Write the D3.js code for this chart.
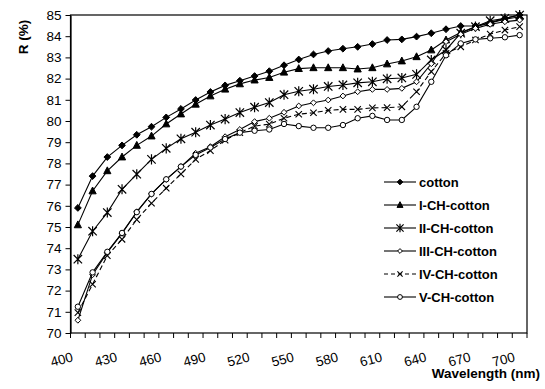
<!DOCTYPE html>
<html>
<head>
<meta charset="utf-8">
<script src="https://cdn.jsdelivr.net/npm/d3@7"></script>
<style>
  body { margin: 0; background: #fff; }
  text { font-family: "Liberation Sans", Arial, sans-serif; fill: #000; }
</style>
</head>
<body>
<div class="chart"></div>
<script>
// wavelengths (nm), one category per 10 nm
var wavelengths = d3.range(400, 701, 10);
var xTickLabels = [400, 430, 460, 490, 520, 550, 580, 610, 640, 670, 700];
var yTicks = d3.range(70, 86, 1);

var cotton = [75.9, 77.4, 78.3, 78.85, 79.35, 79.73, 80.17, 80.57, 80.99, 81.37, 81.68,
  81.9, 82.12, 82.35, 82.63, 82.9, 83.14, 83.3, 83.41, 83.5, 83.63,
  83.82, 83.85, 83.98, 84.14, 84.33, 84.48, 84.48, 84.64, 84.84, 85.0];
var cotton1 = [75.1, 76.7, 77.65, 78.3, 78.85, 79.29, 79.86, 80.33, 80.79, 81.18, 81.5,
  81.75, 81.93, 82.05, 82.3, 82.47, 82.51, 82.51, 82.51, 82.45, 82.51,
  82.69, 82.83, 83.03, 83.35, 83.82, 84.17, 84.45, 84.62, 84.8, 84.92];
var cotton2 = [73.48, 74.8, 75.68, 76.78, 77.49, 78.19, 78.71, 79.16, 79.47, 79.81, 80.09,
  80.4, 80.65, 80.87, 81.24, 81.4, 81.5, 81.63, 81.7, 81.8, 81.85,
  81.99, 82.03, 82.2, 82.88, 83.35, 84.14, 84.45, 84.73, 84.84, 85.0];
var cotton3 = [70.6, 72.75, 73.8, 74.7, 75.72, 76.56, 77.25, 77.85, 78.48, 78.79, 79.26,
  79.6, 79.97, 80.13, 80.41, 80.71, 80.86, 80.99, 81.18, 81.38, 81.49,
  81.49, 81.54, 81.85, 82.7, 83.74, 84.09, 84.37, 84.56, 84.68, 84.76];
var cotton4 = [70.96, 72.3, 73.65, 74.42, 75.35, 76.12, 76.83, 77.5, 78.19, 78.6, 79.1,
  79.45, 79.76, 79.85, 80.13, 80.32, 80.39, 80.5, 80.55, 80.55, 80.62,
  80.63, 80.67, 81.38, 82.33, 83.19, 83.5, 83.82, 84.1, 84.29, 84.45];
var cotton5 = [71.24, 72.86, 73.83, 74.72, 75.7, 76.56, 77.25, 77.85, 78.4, 78.75, 79.15,
  79.45, 79.54, 79.6, 79.86, 79.76, 79.68, 79.68, 79.81, 80.13, 80.24,
  80.05, 80.05, 80.67, 81.85, 83.1, 83.66, 83.85, 83.9, 83.95, 84.05];

var seriesNames = ["cotton", "I-CH-cotton", "II-CH-cotton", "III-CH-cotton", "IV-CH-cotton", "V-CH-cotton"];
var seriesValues = [cotton, cotton1, cotton2, cotton3, cotton4, cotton5];
var seriesMarkers = ["diamond", "triangle", "asterisk", "openDiamond", "cross", "openCircle"];
var seriesDash = [null, null, null, null, "5,3", null];

var svgWidth = 545;
var svgHeight = 389;
var margin = { top: 15, right: 18, bottom: 56, left: 70.5 };
var width = svgWidth - margin.left - margin.right;
var height = svgHeight - margin.top - margin.bottom;

var svg = d3.select(".chart").append("svg")
  .attr("width", svgWidth)
  .attr("height", svgHeight);

var chartGroup = svg.append("g")
  .attr("transform", `translate(${margin.left}, ${margin.top})`);

var xScale = d3.scaleBand().domain(wavelengths).range([0, width]).padding(0);
var yScale = d3.scaleLinear().domain([70, 85]).range([height, 0]);
var cx = d => xScale(d) + xScale.bandwidth() / 2;

// plot frame
chartGroup.append("rect")
  .attr("x", 0).attr("y", 0)
  .attr("width", width).attr("height", height)
  .attr("fill", "none").attr("stroke", "#000").attr("stroke-width", 1.2);

// y axis
var leftAxis = d3.axisLeft(yScale).tickValues(yTicks).tickSize(5).tickPadding(4).tickSizeOuter(0);
var yAxis = chartGroup.append("g").call(leftAxis);
yAxis.select(".domain").attr("stroke-width", 1.2);
yAxis.selectAll("text").style("font-size", "13.5px");

// x axis: ticks between categories, labels every third category
var xAxis = chartGroup.append("g").attr("transform", `translate(0, ${height})`);
xAxis.selectAll("line.tk")
  .data(wavelengths.concat(["end"]))
  .enter().append("line")
  .attr("x1", d => d === "end" ? width : xScale(d))
  .attr("x2", d => d === "end" ? width : xScale(d))
  .attr("y1", 0).attr("y2", 5)
  .attr("stroke", "#000");
xAxis.selectAll("text")
  .data(xTickLabels)
  .enter().append("text")
  .attr("transform", d => `translate(${cx(d) - 4}, 28) rotate(-15)`)
  .attr("text-anchor", "end")
  .style("font-size", "13.5px")
  .text(d => d);

// axis titles
svg.append("text")
  .attr("transform", "rotate(-90)")
  .attr("x", -37).attr("y", 28)
  .attr("text-anchor", "middle")
  .style("font-size", "13.5px").style("font-weight", "bold")
  .text("R (%)");

svg.append("text")
  .attr("x", 540).attr("y", 378)
  .attr("text-anchor", "end")
  .style("font-size", "13.5px").style("font-weight", "bold")
  .text("Wavelength (nm)");

// draw one marker of a given kind at the origin of group g
function drawMarker(g, kind, s) {
  if (kind === "diamond" || kind === "openDiamond") {
    g.append("path")
      .attr("d", `M0,${-s}L${s},0L0,${s}L${-s},0Z`)
      .attr("fill", kind === "diamond" ? "#000" : "#fff")
      .attr("stroke", "#000").attr("stroke-width", 1);
  } else if (kind === "triangle") {
    g.append("path")
      .attr("d", `M0,${-s * 1.1}L${s},${s * 0.8}L${-s},${s * 0.8}Z`)
      .attr("fill", "#000").attr("stroke", "#000");
  } else if (kind === "asterisk") {
    g.append("path")
      .attr("d", `M${-s},${-s}L${s},${s}M${-s},${s}L${s},${-s}M0,${-s * 1.2}L0,${s * 1.2}`)
      .attr("stroke", "#000").attr("stroke-width", 1.2).attr("fill", "none");
  } else if (kind === "cross") {
    g.append("path")
      .attr("d", `M${-s},${-s}L${s},${s}M${-s},${s}L${s},${-s}`)
      .attr("stroke", "#000").attr("stroke-width", 1.1).attr("fill", "none");
  } else {
    g.append("circle").attr("r", s)
      .attr("fill", "#fff").attr("stroke", "#000").attr("stroke-width", 1);
  }
}

var markerSize = { diamond: 3.4, triangle: 3.6, asterisk: 4.2, openDiamond: 2.9, cross: 3.2, openCircle: 2.7 };
var legendSize = { diamond: 2.8, triangle: 3.0, asterisk: 3.6, openDiamond: 2.4, cross: 2.6, openCircle: 2.4 };

var line = d3.line()
  .x((d, i) => cx(wavelengths[i]))
  .y(d => yScale(d));

seriesValues.forEach(function (vals, k) {
  chartGroup.append("path")
    .datum(vals)
    .attr("d", line)
    .attr("fill", "none")
    .attr("stroke", "#000")
    .attr("stroke-width", 1.1)
    .attr("stroke-dasharray", seriesDash[k]);

  chartGroup.selectAll(null)
    .data(vals)
    .enter().append("g")
    .attr("transform", (d, i) => `translate(${cx(wavelengths[i])}, ${yScale(d)})`)
    .each(function () { drawMarker(d3.select(this), seriesMarkers[k], markerSize[seriesMarkers[k]]); });
});

// legend
var legend = svg.append("g").attr("transform", "translate(384, 182)");
seriesNames.forEach(function (name, k) {
  var row = legend.append("g").attr("transform", `translate(0, ${k * 23})`);
  row.append("line")
    .attr("x1", 0).attr("x2", 32).attr("y1", 0).attr("y2", 0)
    .attr("stroke", "#000").attr("stroke-width", 1.1)
    .attr("stroke-dasharray", seriesDash[k] ? "4,3" : null);
  drawMarker(row.append("g").attr("transform", "translate(16, 0)"), seriesMarkers[k], legendSize[seriesMarkers[k]]);
  row.append("text")
    .attr("x", 35).attr("y", 5)
    .style("font-size", "13px").style("font-weight", "bold")
    .text(name);
});
</script>
</body>
</html>
